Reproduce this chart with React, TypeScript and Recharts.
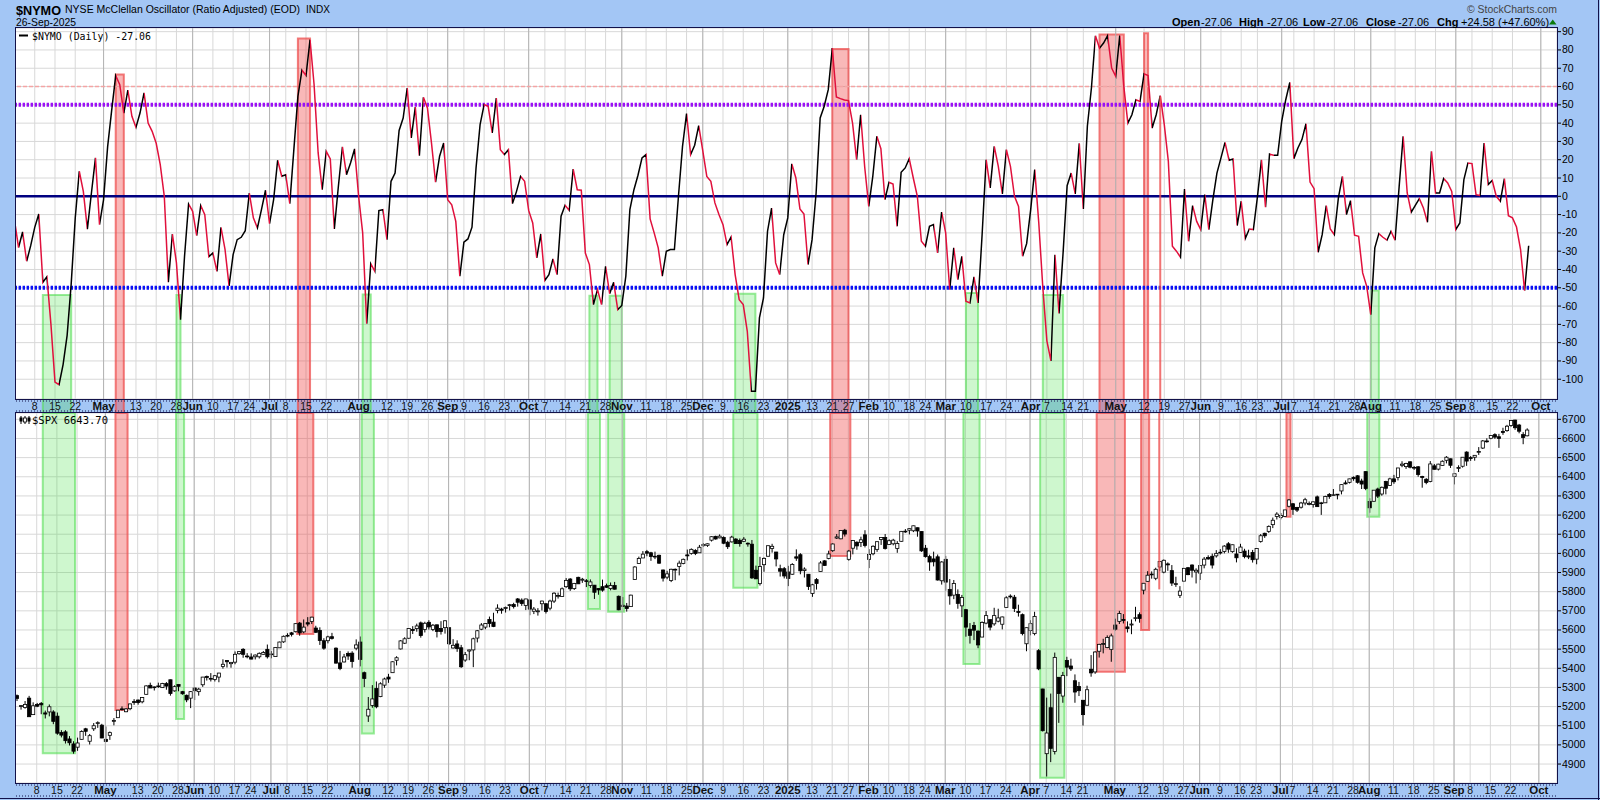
import React from "react";
import {
  ComposedChart,
  Line,
  Bar,
  XAxis,
  YAxis,
  CartesianGrid,
  ReferenceLine,
  ReferenceArea,
} from "recharts";

// NYSE McClellan Oscillator, daily closes, 1 Apr 2024 .. 26 Sep 2025
const NYMO: number[] = [
  -13, -28, -19.5, -35.5, -27, -17, -9.7, -47, -44, -70,
  -101.6, -103, -92, -76, -48, -12, 13.7, 2.7, -17.9, 1.8,
  21, -15.5, -1.8, 27, 47, 66, 61, 45.5, 58, 43.7,
  37.7, 45.5, 56.5, 40, 35.5, 29, 17.3, 0, -47, -20.6,
  -36.4, -67.4, -32.8, -4.2, -8.2, -21.5, -5, -10, -33, -31,
  -41, -17, -29, -49, -31.9, -23.7, -22.4, -18.8, 1.8, -11.8,
  -17.3, -7.3, 3.3, -15, -1.8, 19.7, 11, 11.8, -4, 25.5,
  54.6, 69, 66, 85.6, 61, 23.7, 3.6, 24.6, 20.4, -17.9,
  5.5, 27, 11.8, 18.2, 25.9, 0, -20, -69.6, -36.8, -41,
  -7.8, -7.3, -23.7, 8.2, 12.7, 36, 42.8, 59.2, 31.9, 48.8,
  22.2, 54.1, 48.3, 29.1, 7.7, 21.9, 29.1, -1.8, -4.6, -13.7,
  -43.7, -25.1, -23.3, -16.9, 15.5, 39.2, 50.1, 49.2, 34.6, 53.7,
  25.5, 22.8, 25.5, -4, 2.7, 10.9, 8.2, -7.7, -14.6, -33.7,
  -20.6, -46, -42.8, -34.2, -42.8, -10.9, -4.9, -7.7, 14.9, 3.6,
  3.3, -31, -37.3, -59.2, -51, -59.2, -38.3, -53.2, -47, -62,
  -59.7, -43.7, -7.3, 3.6, 11.5, 21, 22.8, -12.4, -20, -28.2,
  -43.7, -30, -29.1, -29.1, 0, 27.3, 45.2, 22.8, 27.9, 38.6,
  25, 10.9, 8.2, -3.6, -10, -15.5, -26.4, -22.2, -42.8, -56.5,
  -59.2, -73.8, -106.6, -106.6, -66.5, -55.6, -19.1, -6.4, -36.4, -42.8,
  -21, -11.8, 17.7, 10, -6.9, -9.7, -37.3, -23.7, 1.8, 42.8,
  49.2, 58.3, 81, 54.3, 53.4, 52.6, 52.3, 40, 20, 44.6,
  16, -5.5, 10.9, 32.8, 26, -1.8, 7.7, 6.7, -16.4, 13.1,
  15.5, 20.6, 10, 0, -24.6, -27.3, -16.4, -15.5, -31, -8.6,
  -20, -51, -28.2, -45.5, -32.8, -57.4, -58.3, -44.1, -58.3, -21,
  20, 4.6, 27.3, 16.4, 1.3, 25.5, 16.4, 0, -5.5, -32.8,
  -25.9, -7.3, 14.6, -14.6, -50, -79, -90, -32, -64, -31,
  5.8, 12.7, 1.3, 29, -6.9, 38.3, 59.2, 87.8, 81, 83.8,
  87.8, 70.1, 65.6, 87.8, 60.1, 40, 44.6, 52.8, 51.9, 67,
  66, 37.3, 44.6, 55, 39.2, 19.1, -27.3, -30, -33.3, 4,
  -24.6, -5.1, -13.7, -18.2, 0.9, -18.2, -1.8, 12.7, 21, 29.5,
  19.7, 20.4, -16, -2.7, -23.1, -17.9, -18.2, -0.5, 20, -6,
  23.1, 22.4, 22.4, 41, 52.8, 62.3, 20.6, 26.4, 31, 39.7,
  7.8, 4.2, -30.6, -21, -5.1, -17.9, -21, -0.9, 10.9, -10,
  -2.4, -21.3, -21.9, -41.9, -49.2, -64.7, -28.2, -20.4, -22.4, -24,
  -19.1, -24, 5, 32.8, 1.8, -8.7, -4.9, -1.3, -6.4, -14.2,
  24.6, 1.8, 1.8, 9.7, 7.3, 2.7, -18.2, -14.6, 9.1, 18.2,
  17.9, 0.9, 0.4, 29.1, 6.4, 8.6, 0, -2.7, 9.7, -10.6,
  -11.8, -16.8, -29.1, -51.64, -27.06,
];

// S&P 500 daily bars [open, high, low, close]
const SPX_BARS: [number, number, number, number][] = [
  // 2024 Apr
  [5257, 5263, 5229, 5243], [5204, 5208, 5184, 5205], [5195, 5229, 5189, 5211], [5244, 5256, 5146, 5147], [5158, 5222, 5157, 5204],
  [5211, 5219, 5197, 5202], [5217, 5224, 5160, 5209], [5167, 5179, 5138, 5161], [5172, 5211, 5149, 5199], [5172, 5181, 5108, 5123],
  [5150, 5169, 5053, 5061], [5065, 5077, 5039, 5051], [5068, 5077, 5007, 5022], [5031, 5046, 4997, 5011], [5005, 5019, 4954, 4967],
  [4988, 5038, 4969, 5010], [5029, 5076, 5028, 5070], [5084, 5089, 5047, 5071], [5019, 5057, 5002, 5048], [5084, 5114, 5073, 5100],
  [5114, 5123, 5089, 5116], [5103, 5110, 5035, 5036],
  // May
  [5029, 5096, 5014, 5018], [5050, 5070, 5026, 5064], [5123, 5140, 5102, 5128],
  [5142, 5181, 5142, 5181], [5188, 5201, 5179, 5187], [5173, 5192, 5171, 5188], [5189, 5215, 5181, 5214], [5226, 5239, 5209, 5223],
  [5234, 5237, 5210, 5221], [5225, 5250, 5217, 5247], [5264, 5311, 5263, 5308], [5311, 5325, 5297, 5297], [5303, 5305, 5284, 5303],
  [5305, 5325, 5298, 5308], [5299, 5324, 5297, 5321], [5320, 5328, 5288, 5307], [5340, 5341, 5257, 5268], [5282, 5311, 5278, 5304],
  [5315, 5315, 5280, 5306], [5278, 5282, 5262, 5267], [5259, 5263, 5223, 5235], [5244, 5281, 5192, 5278],
  // Jun
  [5297, 5302, 5234, 5283], [5278, 5298, 5257, 5291], [5314, 5355, 5303, 5354], [5357, 5362, 5336, 5352], [5344, 5375, 5331, 5347],
  [5341, 5365, 5331, 5361], [5354, 5376, 5327, 5375], [5409, 5447, 5398, 5421], [5441, 5442, 5404, 5434], [5424, 5432, 5403, 5431],
  [5432, 5488, 5421, 5473], [5476, 5490, 5471, 5487], [5499, 5505, 5455, 5473], [5462, 5479, 5452, 5464],
  [5459, 5478, 5447, 5448], [5460, 5472, 5446, 5469], [5460, 5483, 5451, 5478], [5473, 5490, 5471, 5482], [5499, 5524, 5451, 5460],
  // Jul
  [5471, 5490, 5452, 5475], [5461, 5509, 5461, 5509], [5507, 5539, 5507, 5537], [5538, 5571, 5533, 5567],
  [5572, 5583, 5562, 5572], [5585, 5590, 5566, 5577], [5591, 5635, 5587, 5633], [5636, 5642, 5570, 5585], [5590, 5655, 5583, 5615],
  [5638, 5667, 5619, 5631], [5644, 5669, 5631, 5667], [5610, 5622, 5584, 5588], [5597, 5614, 5522, 5545], [5544, 5557, 5497, 5505],
  [5544, 5570, 5530, 5564], [5565, 5585, 5550, 5556], [5505, 5509, 5425, 5427], [5428, 5491, 5390, 5399], [5433, 5475, 5431, 5459],
  [5477, 5488, 5444, 5464], [5479, 5489, 5403, 5436], [5505, 5551, 5494, 5522],
  // Aug
  [5537, 5566, 5410, 5446], [5377, 5383, 5302, 5347],
  [5151, 5250, 5120, 5186], [5206, 5312, 5194, 5240], [5294, 5331, 5191, 5199], [5252, 5327, 5249, 5319], [5312, 5351, 5298, 5344],
  [5354, 5371, 5324, 5344], [5377, 5436, 5377, 5434], [5442, 5463, 5415, 5455], [5501, 5547, 5498, 5543], [5531, 5562, 5527, 5554],
  [5557, 5609, 5554, 5608], [5603, 5620, 5579, 5597], [5607, 5633, 5591, 5621], [5637, 5644, 5560, 5571], [5602, 5643, 5587, 5635],
  [5640, 5651, 5602, 5616], [5602, 5631, 5594, 5625], [5627, 5628, 5561, 5592], [5608, 5646, 5576, 5592], [5612, 5651, 5581, 5648],
  // Sep
  [5612, 5613, 5522, 5528], [5506, 5552, 5503, 5520], [5527, 5546, 5486, 5503], [5507, 5522, 5402, 5408],
  [5443, 5485, 5434, 5471], [5490, 5497, 5442, 5496], [5496, 5560, 5406, 5554], [5558, 5600, 5535, 5596], [5604, 5636, 5599, 5626],
  [5615, 5636, 5604, 5634], [5655, 5670, 5614, 5634], [5641, 5690, 5615, 5618], [5702, 5734, 5687, 5714], [5709, 5716, 5685, 5703],
  [5712, 5722, 5691, 5718], [5727, 5736, 5702, 5732], [5733, 5742, 5712, 5722], [5762, 5767, 5722, 5745], [5756, 5765, 5726, 5738],
  [5728, 5763, 5704, 5762],
  // Oct
  [5757, 5758, 5677, 5709], [5698, 5720, 5683, 5709], [5695, 5714, 5675, 5700], [5737, 5753, 5702, 5751],
  [5737, 5740, 5686, 5696], [5714, 5758, 5703, 5751], [5751, 5797, 5741, 5792], [5778, 5795, 5764, 5780], [5775, 5822, 5775, 5815],
  [5826, 5871, 5820, 5859], [5866, 5871, 5804, 5815], [5816, 5846, 5809, 5843], [5875, 5878, 5840, 5841], [5860, 5872, 5846, 5865],
  [5857, 5866, 5824, 5853], [5832, 5864, 5820, 5851], [5834, 5835, 5762, 5797], [5817, 5817, 5784, 5809], [5826, 5863, 5800, 5808],
  [5831, 5842, 5820, 5823], [5816, 5848, 5807, 5832], [5832, 5851, 5811, 5813], [5776, 5780, 5703, 5705],
  // Nov
  [5723, 5772, 5723, 5729],
  [5725, 5741, 5696, 5712], [5722, 5784, 5722, 5782], [5864, 5933, 5863, 5929], [5947, 5983, 5947, 5973], [5976, 6012, 5976, 5996],
  [6009, 6018, 5985, 6001], [6003, 6008, 5961, 5984], [5985, 6009, 5970, 5985], [5990, 5993, 5945, 5949], [5913, 5916, 5853, 5871],
  [5876, 5909, 5865, 5893], [5858, 5920, 5850, 5917], [5917, 5921, 5860, 5917], [5932, 5962, 5885, 5949], [5947, 5973, 5943, 5969],
  [5992, 6020, 5963, 5987], [6000, 6026, 5993, 6021], [6015, 6022, 5991, 5999], [6003, 6044, 6003, 6032],
  // Dec
  [6040, 6053, 6035, 6047], [6042, 6052, 6034, 6050], [6069, 6089, 6062, 6087], [6089, 6092, 6072, 6075], [6081, 6099, 6079, 6090],
  [6083, 6089, 6048, 6053], [6058, 6066, 6023, 6035], [6060, 6092, 6057, 6085], [6075, 6079, 6051, 6051], [6068, 6078, 6035, 6051],
  [6063, 6085, 6059, 6074], [6053, 6057, 6035, 6050], [6048, 6070, 5867, 5872], [5912, 5936, 5866, 5867], [5842, 5982, 5832, 5931],
  [5941, 5979, 5904, 5974], [5985, 6041, 5983, 6040], [6025, 6050, 6004, 6037], [6007, 6008, 5932, 5971],
  [5920, 5941, 5879, 5907], [5920, 5929, 5869, 5882],
  // 2025 Jan
  [5903, 5935, 5829, 5869], [5891, 5949, 5888, 5942],
  [5982, 6021, 5961, 5975], [5993, 6001, 5891, 5909], [5910, 5927, 5874, 5918], [5891, 5891, 5809, 5827],
  [5791, 5841, 5773, 5836], [5863, 5871, 5811, 5843], [5905, 5960, 5905, 5950], [5961, 5964, 5935, 5937], [5973, 6014, 5969, 5997],
  [6014, 6052, 6008, 6049], [6080, 6101, 6075, 6086], [6076, 6119, 6074, 6119], [6121, 6128, 6088, 6101],
  [5969, 6018, 5962, 6012], [6027, 6070, 5995, 6067], [6058, 6063, 6019, 6039], [6057, 6087, 6033, 6071], [6097, 6121, 6031, 6041],
  // Feb
  [5969, 6022, 5923, 5994], [5998, 6042, 5990, 6037], [6021, 6062, 6008, 6061], [6073, 6084, 6044, 6083], [6083, 6101, 6020, 6026],
  [6047, 6073, 6044, 6066], [6050, 6076, 6042, 6069], [6025, 6064, 6003, 6052], [6063, 6117, 6061, 6115], [6116, 6127, 6107, 6115],
  [6121, 6130, 6099, 6129], [6118, 6145, 6111, 6144], [6134, 6135, 6087, 6117], [6114, 6115, 6008, 6013],
  [6027, 6044, 5978, 5983], [5983, 5993, 5909, 5955], [5971, 6009, 5932, 5956], [5982, 5994, 5858, 5861], [5857, 5959, 5837, 5955],
  // Mar
  [5969, 5987, 5805, 5850], [5812, 5866, 5732, 5778], [5782, 5861, 5761, 5843], [5786, 5812, 5711, 5739], [5726, 5783, 5667, 5770],
  [5706, 5710, 5565, 5615], [5604, 5636, 5529, 5572], [5624, 5642, 5547, 5599], [5594, 5598, 5505, 5522], [5563, 5645, 5563, 5639],
  [5636, 5699, 5630, 5675], [5654, 5655, 5598, 5615], [5632, 5716, 5622, 5675], [5646, 5711, 5640, 5663], [5630, 5670, 5603, 5668],
  [5718, 5776, 5718, 5768], [5776, 5786, 5764, 5777], [5771, 5783, 5694, 5712], [5696, 5732, 5670, 5693], [5680, 5686, 5572, 5581],
  [5528, 5613, 5489, 5612],
  // Apr
  [5597, 5651, 5572, 5633], [5581, 5695, 5572, 5671], [5492, 5500, 5390, 5397], [5292, 5293, 5070, 5074],
  [4954, 5247, 4835, 5062], [5194, 5268, 4910, 4982], [4966, 5482, 4950, 5457], [5353, 5353, 5115, 5268], [5255, 5381, 5220, 5363],
  [5441, 5460, 5359, 5406], [5412, 5450, 5386, 5397], [5335, 5368, 5220, 5276], [5305, 5329, 5255, 5283],
  [5233, 5233, 5101, 5158], [5207, 5309, 5207, 5288], [5395, 5469, 5356, 5376], [5381, 5489, 5371, 5485], [5489, 5528, 5456, 5525],
  [5529, 5554, 5478, 5529], [5508, 5572, 5505, 5561], [5499, 5581, 5434, 5569],
  // May
  [5626, 5659, 5597, 5604], [5645, 5700, 5631, 5686],
  [5655, 5683, 5634, 5650], [5616, 5645, 5587, 5607], [5626, 5655, 5578, 5631], [5663, 5721, 5645, 5664], [5680, 5692, 5638, 5660],
  [5808, 5845, 5786, 5844], [5854, 5907, 5852, 5886], [5890, 5906, 5868, 5892], [5870, 5925, 5860, 5917], [5929, 5958, 5907, 5958],
  [5902, 5968, 5896, 5964], [5945, 5953, 5909, 5940], [5910, 5939, 5830, 5845], [5842, 5878, 5825, 5842], [5781, 5829, 5767, 5803],
  [5855, 5922, 5855, 5922], [5925, 5929, 5886, 5889], [5939, 5943, 5874, 5912], [5903, 5922, 5843, 5912],
  // Jun
  [5897, 5938, 5861, 5936], [5939, 5981, 5922, 5970], [5978, 5990, 5967, 5971], [5985, 5999, 5921, 5939], [5987, 6017, 5978, 6000],
  [6005, 6022, 5994, 6006], [6010, 6043, 6000, 6038], [6050, 6059, 6003, 6022], [6009, 6046, 6003, 6045], [5997, 6027, 5953, 5977],
  [6005, 6050, 6004, 6033], [6012, 6024, 5974, 5983], [5987, 6019, 5970, 5981], [6005, 6018, 5952, 5967],
  [5970, 6026, 5943, 6025], [6062, 6101, 6056, 6092], [6105, 6108, 6081, 6092], [6115, 6146, 6107, 6141], [6150, 6187, 6132, 6173],
  [6193, 6215, 6177, 6205],
  // Jul
  [6187, 6211, 6178, 6198], [6193, 6227, 6189, 6227], [6246, 6284, 6240, 6279],
  [6259, 6263, 6201, 6230], [6240, 6243, 6216, 6226], [6241, 6269, 6234, 6263], [6263, 6290, 6251, 6280], [6256, 6271, 6251, 6260],
  [6255, 6271, 6239, 6269], [6295, 6302, 6243, 6244], [6260, 6269, 6201, 6264], [6264, 6301, 6263, 6297], [6308, 6315, 6285, 6297],
  [6304, 6336, 6302, 6306], [6307, 6310, 6282, 6309], [6326, 6360, 6308, 6359], [6368, 6381, 6360, 6363], [6371, 6390, 6365, 6389],
  [6397, 6402, 6379, 6390], [6405, 6409, 6364, 6371], [6378, 6390, 6336, 6362], [6427, 6428, 6330, 6339],
  // Aug
  [6271, 6288, 6212, 6238],
  [6272, 6330, 6271, 6330], [6336, 6343, 6289, 6299], [6310, 6349, 6301, 6345], [6375, 6379, 6308, 6340], [6355, 6395, 6353, 6389],
  [6389, 6410, 6363, 6374], [6396, 6446, 6381, 6446], [6460, 6481, 6450, 6466], [6453, 6473, 6441, 6469], [6478, 6481, 6444, 6450],
  [6445, 6456, 6436, 6449], [6452, 6456, 6400, 6412], [6402, 6405, 6343, 6396], [6387, 6393, 6361, 6370], [6375, 6482, 6371, 6467],
  [6457, 6467, 6438, 6439], [6440, 6468, 6433, 6466], [6459, 6486, 6457, 6481], [6486, 6508, 6470, 6502], [6494, 6495, 6446, 6460],
  // Sep
  [6402, 6420, 6360, 6416], [6445, 6460, 6425, 6448], [6455, 6502, 6448, 6502], [6529, 6533, 6457, 6482],
  [6500, 6508, 6483, 6495], [6502, 6513, 6484, 6512], [6530, 6555, 6514, 6532], [6550, 6592, 6545, 6587], [6587, 6601, 6578, 6584],
  [6601, 6616, 6596, 6615], [6620, 6627, 6598, 6607], [6609, 6624, 6551, 6600], [6637, 6656, 6619, 6631], [6641, 6671, 6635, 6664],
  [6668, 6695, 6661, 6694], [6696, 6698, 6645, 6656], [6670, 6676, 6627, 6638], [6620, 6633, 6570, 6605], [6614, 6653, 6611, 6644],
];

// x-axis labels: [trading-day index, label]
const X_TICKS: [number, string][] = [
  [5, "8"], [10, "15"], [15, "22"], [22, "May"], [30, "13"], [35, "20"], [40, "28"], [44, "Jun"], [49, "10"], [54, "17"],
  [58, "24"], [63, "Jul"], [67, "8"], [72, "15"], [77, "22"], [85, "Aug"], [92, "12"], [97, "19"], [102, "26"], [107, "Sep"],
  [111, "9"], [116, "16"], [121, "23"], [127, "Oct"], [131, "7"], [136, "14"], [141, "21"], [146, "28"], [150, "Nov"], [156, "11"],
  [161, "18"], [166, "25"], [170, "Dec"], [175, "9"], [180, "16"], [185, "23"], [191, "2025"], [197, "13"], [202, "21"], [206, "27"],
  [211, "Feb"], [216, "10"], [221, "18"], [225, "24"], [230, "Mar"], [235, "10"], [240, "17"], [245, "24"], [251, "Apr"], [255, "7"],
  [260, "14"], [264, "21"], [272, "May"], [279, "12"], [284, "19"], [289, "27"], [293, "Jun"], [298, "9"], [303, "16"], [307, "23"],
  [313, "Jul"], [316, "7"], [321, "14"], [326, "21"], [331, "28"], [335, "Aug"], [341, "11"], [346, "18"], [351, "25"], [356, "Sep"],
  [360, "8"], [365, "15"], [370, "22"], [377, "Oct"],
];
const MONTH_IDX = [22, 44, 63, 85, 107, 127, 150, 170, 191, 211, 230, 251, 272, 293, 313, 335, 356, 377];

const NYMO_TICKS = [90, 80, 70, 60, 50, 40, 30, 20, 10, 0, -10, -20, -30, -40, -50, -60, -70, -80, -90, -100];
const SPX_TICKS = [6700, 6600, 6500, 6400, 6300, 6200, 6100, 6000, 5900, 5800, 5700, 5600, 5500, 5400, 5300, 5200, 5100, 5000, 4900];

// highlighted zones: day range, oscillator level of the box top, SPX level of the box bottom
const ZONES = [
  { from: 7, to: 14, kind: "g", top: -54, bottom: 4956 },
  { from: 25, to: 27, kind: "r", top: 66.6, bottom: 5182 },
  { from: 40, to: 41, kind: "g", top: -54, bottom: 5135 },
  { from: 70, to: 73, kind: "r", top: 86.2, bottom: 5579 },
  { from: 86, to: 88, kind: "g", top: -53.7, bottom: 5060 },
  { from: 142, to: 144, kind: "g", top: -54.3, bottom: 5709 },
  { from: 147, to: 150, kind: "g", top: -54.3, bottom: 5695 },
  { from: 178, to: 183, kind: "g", top: -53.2, bottom: 5821 },
  { from: 202, to: 206, kind: "r", top: 80.5, bottom: 5986 },
  { from: 235, to: 238, kind: "g", top: -52.8, bottom: 5422 },
  { from: 254, to: 259, kind: "g", top: -53.9, bottom: 4829 },
  { from: 268, to: 274, kind: "r", top: 88.4, bottom: 5382 },
  { from: 279, to: 280, kind: "r", top: 89.1, bottom: 5600 },
  { from: 315, to: 315, kind: "r", top: 67.4, bottom: 6191 },
  { from: 335, to: 337, kind: "g", top: -51.5, bottom: 6191 },
];
const THIN_MARK = { at: 283, top: 54.6, bottom: 5812 };

const SLOTS = 382;
const NYMO_DOMAIN: [number, number] = [-110.8, 92];
const NYMO_OVER = -118.5; // reaches down through the date strip
const SPX_DOMAIN: [number, number] = [4801, 6733];

const BLUE = "#a3c6f5";
const BORDER = "#12124a";
const RISE = "#000000";
const FALL = "#e0103c";
const FONT = "Arial, 'Liberation Sans', sans-serif";
const MONO = "'DejaVu Sans Mono', monospace";

const rows = Array.from({ length: SLOTS }, (_, i) => {
  const b = SPX_BARS[i];
  return {
    i,
    nymo: i < NYMO.length ? NYMO[i] : null,
    range: b ? [b[2], b[1]] : null,
    bar: b ?? null,
  };
});

const tickLabel = new Map<number, string>(X_TICKS);
const monthSet = new Set(MONTH_IDX);

const zoneStyle = (kind: string) =>
  kind === "r"
    ? { fill: "#ee3b3b", fillOpacity: 0.36, stroke: "#ee5050", strokeOpacity: 0.75, strokeWidth: 2 }
    : { fill: "#33dd33", fillOpacity: 0.24, stroke: "#55dd55", strokeOpacity: 0.6, strokeWidth: 2 };

const XTick = (props: any) => {
  const { x, y, payload } = props;
  const month = monthSet.has(payload.value);
  return (
    <text
      x={x}
      y={y + 10.5}
      textAnchor="middle"
      fontFamily={FONT}
      fontSize={month ? 11.5 : 10.5}
      fontWeight={month ? 700 : 400}
      fill="#111"
    >
      {tickLabel.get(payload.value)}
    </text>
  );
};

const YTick = (props: any) => {
  const { x, y, payload } = props;
  return (
    <text x={x} y={y + 3.5} fontFamily={FONT} fontSize={10.5} fill="#000">
      {payload.value}
    </text>
  );
};

const Candle = (props: any) => {
  const { x, y, width, height, payload } = props;
  if (!payload || !payload.bar) return <g />;
  const [o, h, l, c] = payload.bar;
  const top = Math.min(y, y + height);
  const span = Math.abs(height);
  const py = (v: number) => (h === l ? top : top + ((h - v) / (h - l)) * span);
  const cx = x + width / 2;
  const bTop = py(Math.max(o, c));
  const bBot = py(Math.min(o, c));
  return (
    <g>
      <line x1={cx} x2={cx} y1={top} y2={top + span} stroke="#000" strokeWidth={1} />
      <rect
        x={cx - 1.6}
        y={bTop}
        width={3.2}
        height={Math.max(bBot - bTop, 0.8)}
        fill={c >= o ? "#fff" : "#000"}
        stroke="#000"
        strokeWidth={0.8}
      />
    </g>
  );
};

// segment colours: black while rising, red while falling
const gradientStops: React.ReactElement[] = [];
for (let k = 1; k < NYMO.length; k++) {
  const col = NYMO[k] >= NYMO[k - 1] ? RISE : FALL;
  const n = NYMO.length - 1;
  gradientStops.push(<stop key={`a${k}`} offset={(k - 1) / n} stopColor={col} />);
  gradientStops.push(<stop key={`b${k}`} offset={k / n} stopColor={col} />);
}

const xAxisProps = {
  dataKey: "i",
  type: "category" as const,
  ticks: X_TICKS.map((t) => t[0]),
  interval: 0 as const,
  tickLine: false,
  axisLine: false,
  tickSize: 0,
  tickMargin: 0,
  height: 14,
  tick: XTick,
};

const App: React.FC = () => {
  return (
    <div
      style={{
        position: "absolute",
        left: 0,
        top: 0,
        width: 1600,
        height: 800,
        background: BLUE,
        overflow: "hidden",
        fontFamily: FONT,
      }}
    >
      <div style={{ position: "absolute", left: 16, top: 28, width: 1541, height: 371, background: "#fff" }} />
      <div style={{ position: "absolute", left: 16, top: 413, width: 1541, height: 370, background: "#fff" }} />

      {/* oscillator panel */}
      <div style={{ position: "absolute", left: 0, top: 20 }}>
        <ComposedChart width={1600} height={393} data={rows} margin={{ top: 8, right: 0, bottom: 0, left: 14.5 }}>
          <defs>
            <linearGradient id="nymoStroke" x1="0" y1="0" x2="1" y2="0">
              {gradientStops}
            </linearGradient>
          </defs>
          <CartesianGrid stroke="#d8d8d8" />
          <XAxis {...xAxisProps} />
          <YAxis
            orientation="right"
            type="number"
            domain={NYMO_DOMAIN}
            ticks={NYMO_TICKS}
            interval={0}
            allowDataOverflow
            width={43}
            tickSize={4}
            tickMargin={1}
            axisLine={false}
            tickLine={{ stroke: "#000" }}
            tick={YTick}
          />
          {MONTH_IDX.map((m) => (
            <ReferenceLine key={`m${m}`} x={m} stroke="#b4b4b4" />
          ))}
          <ReferenceLine y={60} stroke="#f4a4a4" strokeWidth={1.5} strokeDasharray="4 2" />
          <ReferenceLine y={50} stroke="#9a10f5" strokeWidth={4} strokeDasharray="2.4 1.6" />
          <ReferenceLine y={0} stroke="#000080" strokeWidth={2.5} />
          <ReferenceLine y={-50} stroke="#0a10f5" strokeWidth={4} strokeDasharray="2.4 1.6" />
          <Line
            type="linear"
            dataKey="nymo"
            stroke="url(#nymoStroke)"
            strokeWidth={1.5}
            dot={false}
            activeDot={false}
            isAnimationActive={false}
          />
          {ZONES.map((z, k) => (
            <ReferenceArea
              key={`tz${k}`}
              x1={z.from}
              x2={z.to}
              y1={NYMO_OVER}
              y2={z.top}
              ifOverflow="visible"
              {...zoneStyle(z.kind)}
            />
          ))}
          <ReferenceLine
            segment={[
              { x: THIN_MARK.at, y: THIN_MARK.top },
              { x: THIN_MARK.at, y: NYMO_OVER },
            ]}
            ifOverflow="visible"
            stroke="#ee5050"
            strokeOpacity={0.8}
            strokeWidth={2}
          />
        </ComposedChart>
      </div>

      {/* price panel */}
      <div style={{ position: "absolute", left: 0, top: 413 }}>
        <ComposedChart width={1600} height={384} data={rows} margin={{ top: 0, right: 0, bottom: 0, left: 14.5 }}>
          <CartesianGrid stroke="#d8d8d8" />
          <XAxis {...xAxisProps} />
          <YAxis
            orientation="right"
            type="number"
            domain={SPX_DOMAIN}
            ticks={SPX_TICKS}
            interval={0}
            allowDataOverflow
            width={43}
            tickSize={4}
            tickMargin={1}
            axisLine={false}
            tickLine={{ stroke: "#000" }}
            tick={YTick}
          />
          {MONTH_IDX.map((m) => (
            <ReferenceLine key={`m${m}`} x={m} stroke="#b4b4b4" />
          ))}
          <Bar dataKey="range" barSize={3} shape={Candle} isAnimationActive={false} />
          {ZONES.map((z, k) => (
            <ReferenceArea
              key={`bz${k}`}
              x1={z.from}
              x2={z.to}
              y1={z.bottom}
              y2={SPX_DOMAIN[1]}
              ifOverflow="visible"
              {...zoneStyle(z.kind)}
            />
          ))}
          <ReferenceLine
            segment={[
              { x: THIN_MARK.at, y: SPX_DOMAIN[1] },
              { x: THIN_MARK.at, y: THIN_MARK.bottom },
            ]}
            ifOverflow="visible"
            stroke="#ee5050"
            strokeOpacity={0.8}
            strokeWidth={2}
          />
        </ComposedChart>
      </div>

      {/* frame, header and legends */}
      <svg width={1600} height={800} style={{ position: "absolute", left: 0, top: 0, pointerEvents: "none" }}>
        <rect x={0} y={27} width={15} height={773} fill={BLUE} />
        <rect x={15.5} y={27.5} width={1542} height={372} fill="none" stroke={BORDER} />
        <rect x={15.5} y={412.5} width={1542} height={371} fill="none" stroke={BORDER} />
        <line x1={16} x2={1557} y1={401} y2={401} stroke={BORDER} strokeDasharray="1 2" />
        <line x1={16} x2={1557} y1={411} y2={411} stroke={BORDER} strokeDasharray="1 2" />
        <line x1={16} x2={1557} y1={785} y2={785} stroke={BORDER} strokeDasharray="1 2" />
        <line x1={16} x2={1557} y1={796} y2={796} stroke={BORDER} strokeDasharray="1 2" />
        <line x1={0} x2={1600} y1={798.5} y2={798.5} stroke={BORDER} />
        <line x1={1598.5} x2={1598.5} y1={0} y2={800} stroke={BORDER} />

        <text x={16} y={15} fontFamily={FONT} fontSize={13} fontWeight={700} textLength={45} lengthAdjust="spacingAndGlyphs">
          $NYMO
        </text>
        <text x={65} y={13} fontFamily={FONT} fontSize={10} textLength={235} lengthAdjust="spacingAndGlyphs">
          NYSE McClellan Oscillator (Ratio Adjusted) (EOD)
        </text>
        <text x={306} y={13} fontFamily={FONT} fontSize={10} textLength={24} lengthAdjust="spacingAndGlyphs">
          INDX
        </text>
        <text x={16} y={26} fontFamily={FONT} fontSize={11} textLength={60} lengthAdjust="spacingAndGlyphs">
          26-Sep-2025
        </text>
        <text x={1467} y={13} fontFamily={FONT} fontSize={11.5} fill="#444" textLength={90} lengthAdjust="spacingAndGlyphs">
          © StockCharts.com
        </text>
        <text y={25.5} fontFamily={FONT} fontSize={11}>
          <tspan x={1172} fontWeight={700}>Open</tspan>
          <tspan x={1201}>-27.06</tspan>
          <tspan x={1239} fontWeight={700}>High</tspan>
          <tspan x={1267}>-27.06</tspan>
          <tspan x={1303} fontWeight={700}>Low</tspan>
          <tspan x={1327}>-27.06</tspan>
          <tspan x={1366} fontWeight={700}>Close</tspan>
          <tspan x={1398}>-27.06</tspan>
          <tspan x={1437} fontWeight={700}>Chg</tspan>
          <tspan x={1461}>+24.58 (+47.60%)</tspan>
        </text>
        <polygon points="1549,24.5 1556.5,24.5 1552.75,19.5" fill="#0b7a0b" />

        <line x1={19} x2={28} y1={35.5} y2={35.5} stroke="#000" strokeWidth={2} />
        <text x={32} y={39.5} fontFamily={MONO} fontSize={10.5} textLength={119} lengthAdjust="spacingAndGlyphs">
          $NYMO (Daily) -27.06
        </text>

        <line x1={21} x2={21} y1={416} y2={424} stroke="#000" />
        <rect x={19.5} y={417.5} width={3} height={4} fill="#000" />
        <line x1={25} x2={25} y1={416} y2={424} stroke="#000" />
        <rect x={23.5} y={418} width={3} height={4} fill="#fff" stroke="#000" strokeWidth={0.8} />
        <line x1={29} x2={29} y1={416} y2={424} stroke="#000" />
        <rect x={27.5} y={417.5} width={3} height={4} fill="#000" />
        <text x={32} y={424} fontFamily={MONO} fontSize={10.5} textLength={76} lengthAdjust="spacingAndGlyphs">
          $SPX 6643.70
        </text>
      </svg>
    </div>
  );
};

export default App;
